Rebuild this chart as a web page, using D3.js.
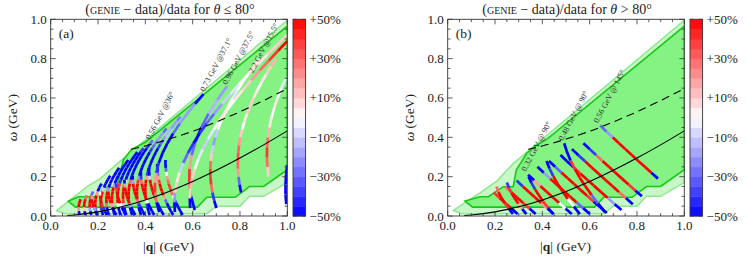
<!DOCTYPE html>
<html>
<head>
<meta charset="utf-8">
<script src="https://cdn.jsdelivr.net/npm/d3@7"></script>
<style>
  body { margin: 0; background: #fff; }
  svg { display: block; }
  text { font-family: "Liberation Serif", "Times New Roman", serif; fill: #222; }
</style>
</head>
<body>
<div id="chart"></div>
<script>
// ---------------- data ----------------
const axisTicks = [0, 0.2, 0.4, 0.6, 0.8, 1.0];
const barTicks = [50, 30, 10, -10, -30, -50];
const barLabels = ['+50%', '+30%', '+10%', '\u221210%', '\u221230%', '\u221250%'];

// theta <= 80 deg : beam energy (GeV), angle (deg), omega range (GeV), (GENIE-data)/data in % per omega bin
const fwdEnergy = [0.20, 0.24, 0.28, 0.32, 0.36, 0.40, 0.44, 0.48, 0.52, 0.56, 0.62, 0.68,
                   0.20, 0.24, 0.28, 0.32, 0.36, 0.40, 0.44, 0.48, 0.52, 0.56,
                   0.73, 0.961, 1.108, 1.299, 1.501, 2.02, 2.2, 3.6];
const fwdAngle = [36, 36, 36, 36, 36, 36, 36, 36, 36, 36, 36, 36,
                  60, 60, 60, 60, 60, 60, 60, 60, 60, 60,
                  37.1, 37.5, 37.5, 37.5, 37.5, 15, 15.5, 16];
const fwdOmega = [[0.005, 0.085], [0.005, 0.105], [0.005, 0.125], [0.005, 0.165], [0.005, 0.205], [0.005, 0.245],
                  [0.005, 0.285], [0.005, 0.325], [0.005, 0.345], [0.005, 0.385], [0.005, 0.445], [0.005, 0.505],
                  [0.005, 0.105], [0.005, 0.125], [0.005, 0.145], [0.005, 0.165], [0.005, 0.185], [0.005, 0.205],
                  [0.005, 0.225], [0.005, 0.245], [0.005, 0.265], [0.005, 0.285],
                  [0.02, 0.62], [0.03, 0.66], [0.04, 0.80], [0.12, 0.80], [0.20, 0.70], [0.02, 0.92], [0.04, 0.89], [0.06, 0.26]];
const fwdDiff = [
  [-60, 20, 60, 60],
  [-60, 10, 60, 60, 30],
  [-60, -20, 60, 60, 60, -30],
  [-60, -30, 60, 60, 60, 20, -60, -60],
  [-60, -40, 50, 60, 60, 60, -10, -60, -60, -60],
  [-60, -50, 30, 60, 60, 60, 30, -50, -60, -60, -60, -60],
  [-60, -60, 10, 60, 60, 60, 60, -20, -60, -60, -60, -60, -60, -60],
  [-60, -60, 0, 50, 60, 60, 60, 40, -40, -60, -60, -60, -60, -60, -60, -50],
  [-60, -60, -10, 40, 60, 60, 60, 60, 0, -60, -60, -60, -60, -60, -60, -50, -40],
  [-60, -60, -20, 30, 60, 60, 60, 60, 30, -50, -60, -60, -60, -60, -60, -60, -50, -40, -30],
  [-60, -60, -30, 10, 50, 60, 60, 60, 40, -20, -60, -60, -60, -60, -60, -50, -40, -30, -25, -20, -20, -30],
  [-60, -60, -40, 0, 40, 60, 60, 60, 50, 20, -40, -60, -60, -60, -60, -60, -50, -40, -30, -20, -15, -15, -20, -20, -25],
  [-60, -20, 60, 60, 20],
  [-60, -40, 40, 60, 60, 0],
  [-60, -50, 20, 60, 60, 60, -20],
  [-60, -60, 0, 60, 60, 60, 40, -40],
  [-60, -60, -20, 50, 60, 60, 60, 20, -50],
  [-60, -60, -40, 30, 60, 60, 60, 60, -20, -60],
  [-60, -60, -50, 0, 50, 60, 60, 60, 30, -40, -60],
  [-60, -60, -60, -20, 40, 60, 60, 60, 50, -10, -60, -60],
  [-60, -60, -60, -30, 20, 50, 60, 60, 40, 20, -30, -50, -60],
  [-60, -60, -60, -40, 0, 30, 40, 40, 30, 20, 0, -30, -50, -60],
  [-60, 30, 40, 20, -40, -60, -60, -50, -30, -20, -20, -60],
  [-60, 30, 40, 20, -30, -50, -30, -15, -20],
  [-60, -40, 30, 40, 40, 30, 10, -10, -20, -10, 0, 5, 5, 0, -5, 0, 5, 10, 5],
  [-60, -30, 20, 30, 35, 30, 20, 10, 0, 5, 10, 10, 5, 0, 5, 10, 15],
  [10, 30, 40, 30, 15, 5, 0, 5, 0, -5],
  [-60, -20, 10, 5, -10, -30, -40, -50, -40, -30, -20, -10, -5, 0, 5, 5, 10, 10],
  [-60, 10, 15, 10, 0, -5, -10, -5, 0, 5, 0, 5, 10, 20, 30, 40, 50],
  [-60, -60, -60, -60]
];

// theta > 80 deg
const bwdEnergy = [0.16, 0.20, 0.24, 0.28, 0.32, 0.36, 0.40, 0.44, 0.48, 0.56, 0.20, 0.24, 0.32, 0.40, 0.48];
const bwdAngle = [145, 145, 145, 145, 145, 145, 145, 145, 145, 145, 90, 90, 90, 90, 90];
const bwdOmega = [[0.01, 0.12], [0.01, 0.15], [0.01, 0.18], [0.01, 0.21], [0.01, 0.25], [0.015, 0.28],
                  [0.03, 0.31], [0.06, 0.34], [0.10, 0.37], [0.19, 0.46],
                  [0.01, 0.15], [0.01, 0.17], [0.01, 0.20], [0.01, 0.28], [0.02, 0.37]];
const bwdDiff = [
  [-60, 60, 60, 40],
  [-60, 40, 60, 60, 30],
  [-60, 20, 60, 60, 60, -40],
  [-60, 0, 60, 60, 60, 20, -60],
  [-60, -30, 60, 60, 60, 60, -20, -60],
  [-60, -50, 40, 60, 60, 60, 60, -30, -60],
  [-60, -20, 60, 60, 60, 60, 40, -50, -60],
  [-60, 30, 60, 60, 60, 60, 60, -40, -60],
  [-60, 40, 60, 60, 60, 60, 30, -40, -60],
  [-60, 60, 60, 60, 60, 60, 60, -20, -30],
  [-60, 40, 60, 60, 30],
  [-60, 20, 60, 60, 40, -40],
  [-60, 40, 60, 60, -40, -60],
  [-60, 0, 60, 60, 60, -40, -60],
  [-60, -30, 60, 60, 60, 40, -50, -60]
];

// shaded kinematic regions, [|q|, omega]
const fwdOuter = [[0.025, 0.027], [0.16, 0.155], [0.21, 0.19], [0.28, 0.265], [1.0, 0.995], [1.0, 0.17],
                  [0.9, 0.1], [0.84, 0.1], [0.8, 0.05], [0.7, 0.05], [0.66, 0.012], [0.06, 0.012]];
const fwdInner = [[0.074, 0.075], [0.117, 0.098], [0.187, 0.098], [0.229, 0.146], [0.279, 0.146], [0.307, 0.285],
                  [0.342, 0.339], [0.4, 0.375], [1.0, 0.965], [1.0, 0.235], [0.9, 0.15], [0.84, 0.15],
                  [0.78, 0.095], [0.66, 0.095], [0.62, 0.045], [0.105, 0.045]];
const bwdOuter = [[0.024, 0.028], [0.14, 0.12], [0.21, 0.18], [0.24, 0.22], [0.28, 0.27], [0.33, 0.32], [1.0, 0.995],
                  [1.0, 0.17], [0.9, 0.1], [0.84, 0.1], [0.8, 0.05], [0.7, 0.05], [0.66, 0.012], [0.06, 0.012]];
const bwdInner = [[0.073, 0.076], [0.137, 0.098], [0.172, 0.098], [0.235, 0.149], [0.277, 0.149], [0.29, 0.234],
                  [0.334, 0.319], [0.37, 0.355], [0.418, 0.39], [0.46, 0.43], [1.0, 0.965], [1.0, 0.235],
                  [0.9, 0.15], [0.84, 0.15], [0.78, 0.095], [0.66, 0.095], [0.62, 0.045], [0.105, 0.045]];

// quasielastic peak (solid) and Delta peak (dashed) positions
const qeQ = [0.07, 0.1, 0.2, 0.3, 0.4, 0.5, 0.6, 0.7, 0.8, 0.9, 1.0];
const qeW = [0.0026, 0.0053, 0.0211, 0.0468, 0.0816, 0.1248, 0.1753, 0.2322, 0.2946, 0.3617, 0.4328];
const deltaQ = [0.34, 0.4, 0.5, 0.6, 0.7, 0.8, 0.9, 1.0];
const deltaW = [0.339, 0.356, 0.391, 0.431, 0.478, 0.530, 0.587, 0.648];

const fwdLabels = ['0.56 GeV @36\u00b0', '0.73 GeV @37.1\u00b0', '0.96 GeV @37.5\u00b0', '2.2 GeV @15.5\u00b0'];
const fwdLabelAt = [[0.42, 0.386], [0.65, 0.63], [0.745, 0.665], [0.855, 0.725]];
const bwdLabels = ['0.32 GeV @ 90\u00b0', '0.48 GeV @ 90\u00b0', '0.56 GeV @ 145\u00b0'];
const bwdLabelAt = [[0.33, 0.225], [0.487, 0.38], [0.635, 0.47]];

// ---------------- drawing ----------------
const width = 747, height = 257;
const plotTop = 19.3, plotBottom = 216;

const svg = d3.select('#chart').append('svg')
  .attr('width', width)
  .attr('height', height);

const color = d3.scaleLinear()
  .domain([-50, 0, 50])
  .range(['#0000ff', '#ffffff', '#ff0000'])
  .clamp(true);

// |q| along a line of fixed beam energy and scattering angle
function qAt(E, theta, w) {
  const Ep = E - w, c = Math.cos(theta * Math.PI / 180);
  return Math.sqrt(E * E + Ep * Ep - 2 * E * Ep * c);
}

function drawPanel(p) {
  const x = d3.scaleLinear().domain([0, 1]).range([p.left, p.right]);
  const y = d3.scaleLinear().domain([0, 1]).range([plotBottom, plotTop]);
  const g = svg.append('g');

  g.append('clipPath').attr('id', 'clip' + p.id)
    .append('rect')
    .attr('x', p.left).attr('y', plotTop)
    .attr('width', p.right - p.left).attr('height', plotBottom - plotTop);

  const area = d3.line().x(d => x(d[0])).y(d => y(d[1]));
  const plot = g.append('g').attr('clip-path', `url(#clip${p.id})`);

  plot.append('path')
    .attr('d', area(p.outer) + 'Z')
    .style('fill', '#c8f7c8')
    .style('stroke', '#8ee88e')
    .style('stroke-width', 1.5);

  plot.append('path')
    .attr('d', area(p.inner) + 'Z')
    .style('fill', '#84f384')
    .style('stroke', '#16c916')
    .style('stroke-width', 1.6);

  // data bins along each (E, theta) line
  const segs = [];
  p.energy.forEach((E, i) => {
    const [w0, w1] = p.omega[i];
    const vals = p.diff[i];
    const step = (w1 - w0) / vals.length;
    vals.forEach((v, j) => {
      const wa = w0 + j * step, wb = wa + step;
      segs.push({E: E, th: p.angle[i], wa: wa, wb: wb, v: v});
    });
  });

  plot.selectAll('line.bin')
    .data(segs)
    .enter()
    .append('line')
    .attr('class', 'bin')
    .attr('x1', d => x(qAt(d.E, d.th, d.wa)))
    .attr('y1', d => y(d.wa))
    .attr('x2', d => x(qAt(d.E, d.th, d.wb)))
    .attr('y2', d => y(d.wb))
    .style('stroke', d => color(d.v))
    .style('stroke-width', 2.7)
    .style('stroke-linecap', 'butt');

  const curve = d3.line().x(d => x(d[0])).y(d => y(d[1])).curve(d3.curveMonotoneX);
  plot.append('path')
    .attr('d', curve(qeQ.map((q, i) => [q, qeW[i]])))
    .style('fill', 'none').style('stroke', '#000').style('stroke-width', 1.1);
  plot.append('path')
    .attr('d', curve(deltaQ.map((q, i) => [q, deltaW[i]])))
    .style('fill', 'none').style('stroke', '#000').style('stroke-width', 1.1)
    .style('stroke-dasharray', '8,5');

  // frame and inward ticks
  g.append('rect')
    .attr('x', p.left).attr('y', plotTop)
    .attr('width', p.right - p.left).attr('height', plotBottom - plotTop)
    .style('fill', 'none').style('stroke', '#333').style('stroke-width', 0.9);

  const minor = x.ticks(20);
  const tk = g.append('g').style('stroke', '#333').style('stroke-width', 0.8);
  minor.forEach((t, i) => {
    const len = i % 4 === 0 ? 5 : 2.8;
    tk.append('line').attr('x1', x(t)).attr('x2', x(t)).attr('y1', plotBottom).attr('y2', plotBottom - len);
    tk.append('line').attr('x1', x(t)).attr('x2', x(t)).attr('y1', plotTop).attr('y2', plotTop + len);
    tk.append('line').attr('y1', y(t)).attr('y2', y(t)).attr('x1', p.left).attr('x2', p.left + len);
    tk.append('line').attr('y1', y(t)).attr('y2', y(t)).attr('x1', p.right).attr('x2', p.right - len);
  });

  g.selectAll('text.xt').data(axisTicks).enter().append('text')
    .attr('class', 'xt')
    .attr('x', d => x(d)).attr('y', 230)
    .attr('text-anchor', 'middle')
    .style('font-size', '13px')
    .text(d => d.toFixed(1));

  g.selectAll('text.yt').data(axisTicks).enter().append('text')
    .attr('class', 'yt')
    .attr('x', p.left - 4).attr('y', d => y(d) + 4.5)
    .attr('text-anchor', 'end')
    .style('font-size', '13px')
    .text(d => d.toFixed(1));

  // axis titles
  const xl = g.append('text')
    .attr('x', (p.left + p.right) / 2 - 0.5).attr('y', 251)
    .attr('text-anchor', 'middle').style('font-size', '13.5px');
  xl.append('tspan').text('|');
  xl.append('tspan').style('font-weight', 'bold').text('q');
  xl.append('tspan').text('| (GeV)');

  const yl = g.append('text')
    .attr('transform', `translate(${p.left - 34},${(plotTop + plotBottom) / 2}) rotate(-90)`)
    .attr('text-anchor', 'middle').style('font-size', '13.5px');
  yl.append('tspan').style('font-style', 'italic').text('\u03c9');
  yl.append('tspan').text(' (GeV)');

  const tt = g.append('text')
    .attr('x', (p.left + p.right) / 2 + 1).attr('y', 14)
    .attr('text-anchor', 'middle').style('font-size', '14px');
  tt.append('tspan').text('(');
  tt.append('tspan').style('font-variant', 'small-caps').text('genie');
  tt.append('tspan').text(' \u2212 data)/data for ');
  tt.append('tspan').style('font-style', 'italic').text('\u03b8');
  tt.append('tspan').text(p.cut);

  g.append('text')
    .attr('x', p.left + 8).attr('y', 38)
    .style('font-size', '13.5px')
    .text(p.tag);

  // dataset labels
  g.selectAll('text.lab').data(p.labels).enter().append('text')
    .attr('class', 'lab')
    .attr('transform', (d, i) => `translate(${x(p.labelAt[i][0])},${y(p.labelAt[i][1])}) rotate(-62)`)
    .style('font-size', '8.2px')
    .style('fill', '#333')
    .text(d => d);

  // colour bar
  const bx = p.right + 5.7, bw = 12.6;
  const cb = d3.scaleLinear().domain([-50, 50]).range([plotBottom, plotTop]);
  const bands = d3.range(-50, 50, 5);
  g.selectAll('rect.band').data(bands).enter().append('rect')
    .attr('class', 'band')
    .attr('x', bx).attr('width', bw)
    .attr('y', d => cb(d + 5)).attr('height', cb(0) - cb(5) + 0.4)
    .style('fill', d => color(d + 2.5));
  g.append('rect')
    .attr('x', bx).attr('y', plotTop).attr('width', bw).attr('height', plotBottom - plotTop)
    .style('fill', 'none').style('stroke', '#333').style('stroke-width', 0.9);
  barTicks.forEach(t => {
    tk.append('line').attr('x1', bx).attr('x2', bx + 4).attr('y1', cb(t)).attr('y2', cb(t));
    tk.append('line').attr('x1', bx + bw).attr('x2', bx + bw - 4).attr('y1', cb(t)).attr('y2', cb(t));
  });
  g.selectAll('text.bt').data(barTicks).enter().append('text')
    .attr('class', 'bt')
    .attr('x', bx + bw + 4).attr('y', d => cb(d) + 4.5)
    .style('font-size', '13px')
    .text((d, i) => barLabels[i]);
}

drawPanel({
  id: 'a', tag: '(a)', left: 50.7, right: 287.3, cut: ' \u2264 80\u00b0',
  energy: fwdEnergy, angle: fwdAngle, omega: fwdOmega, diff: fwdDiff,
  outer: fwdOuter, inner: fwdInner, labels: fwdLabels, labelAt: fwdLabelAt
});
drawPanel({
  id: 'b', tag: '(b)', left: 447.7, right: 684.3, cut: ' > 80\u00b0',
  energy: bwdEnergy, angle: bwdAngle, omega: bwdOmega, diff: bwdDiff,
  outer: bwdOuter, inner: bwdInner, labels: bwdLabels, labelAt: bwdLabelAt
});
</script>
</body>
</html>
